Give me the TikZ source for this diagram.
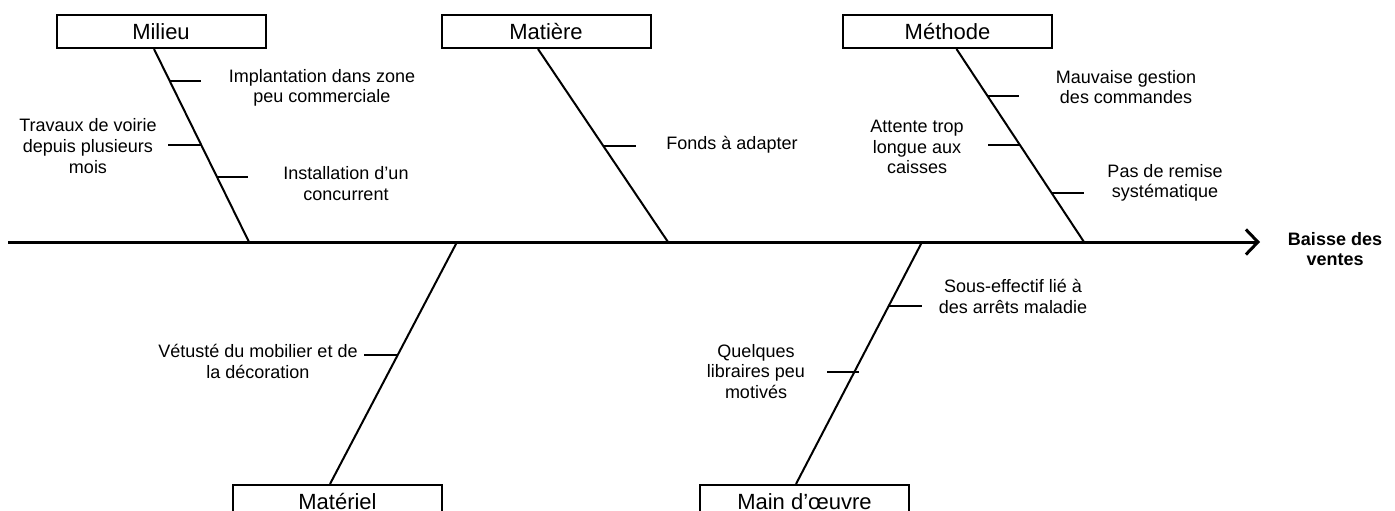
\documentclass[tikz,border=0pt]{standalone}
\usepackage{fontspec}
\setmainfont{Liberation Sans}
\usetikzlibrary{arrows.meta,calc}

\tikzset{
    cause/.style={draw, line width=1pt, minimum width=104.5pt, minimum height=16.5pt,
        inner sep=0pt, font=\fontsize{11}{12.5}\selectfont},
    sous/.style={align=center, inner sep=0pt, font=\fontsize{9}{10.3}\selectfont},
    arete/.style={line width=1pt},
    spine/.style={line width=1.5pt, -{Straight Barb[length=6pt,width=12.5pt]}}
}

\begin{document}
\begin{tikzpicture}[x=0.5pt, y=-0.5pt]

    \useasboundingbox (0,0) rectangle (1395,510);

    \node[cause] (milieu) at (161,31.5)
        {Milieu};

    \node[cause] (matiere) at (546,31.5)
        {Matière};

    \node[cause] (methode) at (947.5,31.5)
        {Méthode};

    \node[cause] (materiel) at (337.5,501.5)
        {Matériel};

    \node[cause] (mainoeuvre) at (804.5,501.5)
        {Main d’œuvre};

    \node[sous, font=\fontsize{9}{10.3}\selectfont\bfseries] (effet) at (1335,249)
        {Baisse des\\ventes};

    \coordinate (tail) at (8,242);
    \coordinate (head) at (1260,242);
    \coordinate (s1) at (249,242);
    \coordinate (s2) at (668,242);
    \coordinate (s3) at (1084,242);
    \coordinate (s4) at (457,242);
    \coordinate (s5) at (922,242);

    \coordinate (t1) at ([xshift=-3.5pt]milieu.south);
    \coordinate (t2) at ([xshift=-4pt]matiere.south);
    \coordinate (t3) at ([xshift=4.5pt]methode.south);
    \coordinate (t4) at ([xshift=-3.75pt]materiel.north);
    \coordinate (t5) at ([xshift=-4.25pt]mainoeuvre.north);

    \draw[spine] (tail) -- (head);

    \draw[arete] (t1) -- (s1);
    \draw[arete] (t2) -- (s2);
    \draw[arete] (t3) -- (s3);
    \draw[arete] (s4) -- (t4);
    \draw[arete] (s5) -- (t5);

    \draw[arete] ($(t1)!0.165!(s1)$) -- ++(31,0);
    \draw[arete] ($(t1)!0.495!(s1)$) -- ++(-33,0);
    \draw[arete] ($(t1)!0.665!(s1)$) -- ++(31,0);
    \draw[arete] ($(t2)!0.5!(s2)$) -- ++(33,0);
    \draw[arete] ($(t3)!0.242!(s3)$) -- ++(32,0);
    \draw[arete] ($(t3)!0.495!(s3)$) -- ++(-32,0);
    \draw[arete] ($(t3)!0.747!(s3)$) -- ++(32,0);
    \draw[arete] ($(s4)!0.465!(t4)$) -- ++(-34,0);
    \draw[arete] ($(s5)!0.263!(t5)$) -- ++(33,0);
    \draw[arete] ($(s5)!0.539!(t5)+(5,0)$) -- ++(-32,0);

    \node[sous] (implantation) at (322,88)
        {Implantation dans zone\\peu commerciale};

    \node[sous] (travaux) at (88,146)
        {Travaux de voirie\\depuis plusieurs\\mois};

    \node[sous] (concurrent) at (346,183.5)
        {Installation d’un\\concurrent};

    \node[sous] (fonds) at (732,145)
        {Fonds à adapter};

    \node[sous] (gestion) at (1126,87)
        {Mauvaise gestion\\des commandes};

    \node[sous] (attente) at (917,147)
        {Attente trop\\longue aux\\caisses};

    \node[sous] (remise) at (1165,183)
        {Pas de remise\\systématique};

    \node[sous] (vetuste) at (258,361.5)
        {Vétusté du mobilier et de\\la décoration};

    \node[sous] (effectif) at (1013,296.5)
        {Sous-effectif lié à\\des arrêts maladie};

    \node[sous] (libraires) at (756,371.5)
        {Quelques\\libraires peu\\motivés};

\end{tikzpicture}
\end{document}
